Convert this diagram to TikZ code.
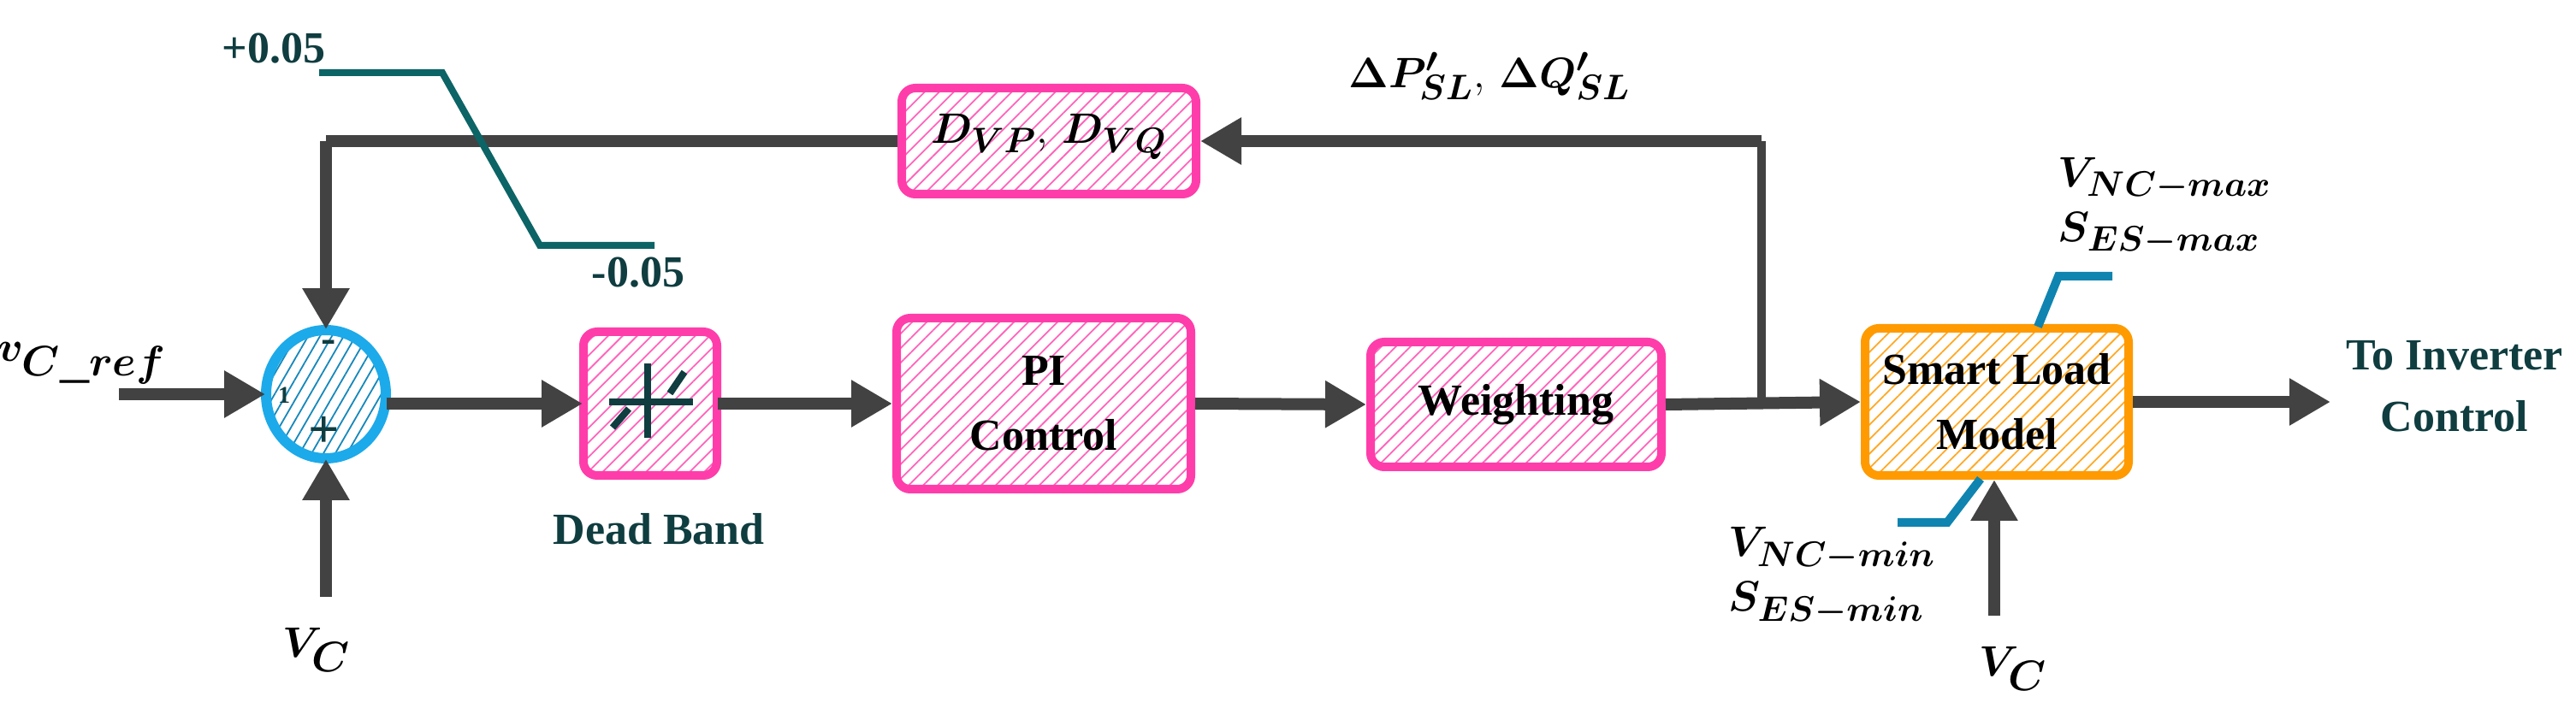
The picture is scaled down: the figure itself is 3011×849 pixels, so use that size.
\documentclass[tikz,border=0pt]{standalone}
\usepackage{fontspec}
\setmainfont{Liberation Serif}
\usepackage{bm}
\usetikzlibrary{arrows.meta,patterns.meta,shapes.geometric}
\definecolor{ar}{HTML}{424242}
\definecolor{pk}{HTML}{FF3DAA}
\definecolor{og}{HTML}{FF9A00}
\definecolor{cy}{HTML}{1CAAEA}
\definecolor{tl}{HTML}{0F3D40}
\definecolor{bl}{HTML}{0F84B0}
\begin{document}
\begin{tikzpicture}[x=0.5pt,y=-0.5pt,
  blk/.style={draw=pk,line width=5pt,rounded corners=8pt,pattern={Lines[angle=45,distance=6pt,line width=0.9pt]},pattern color=pk!80,font=\bfseries\fontsize{26}{30}\selectfont,text=black,align=center,inner sep=0pt},
  sig/.style={draw=ar,line width=7pt},
  arr/.style={sig,-{Triangle[length=24pt,width=26pt]}},
  lbl/.style={text=tl,font=\bfseries\fontsize{26}{30}\selectfont,align=center},
  mth/.style={text=tl,font=\fontsize{30}{34}\selectfont,align=left,inner sep=0pt}]
\useasboundingbox (0,0) rectangle (3011,849);
% blocks
\node[draw=cy,line width=6pt,ellipse,minimum width=140pt/2*2/2*1,minimum height=0pt,pattern={Lines[angle=60,distance=6pt,line width=0.9pt]},pattern color=cy!80!black,inner sep=0pt,minimum width=70pt,minimum height=75pt] (sum) at (381,461) {};
\node[text=tl,font=\bfseries\fontsize{26}{30}\selectfont] (minus) at (384,405) {-};
\node[text=tl,font=\bfseries\fontsize{32}{34}\selectfont] (plus) at (379,505) {+};
\node[text=tl,font=\bfseries\fontsize{14}{14}\selectfont] (one) at (332,462) {1};
\node[blk,minimum width=78pt,minimum height=84pt] (db) at (760,472) {};
\node[blk,minimum width=172pt,minimum height=100pt] (pi) at (1220,472) {PI\\[8pt]Control};
\node[blk,minimum width=170pt,minimum height=73pt] (wt) at (1772,473) {Weighting};
\node[blk,minimum width=172pt,minimum height=62pt] (dv) at (1226,165) {};
\node[text=black,font=\fontsize{32}{34}\selectfont] (dvt) at (1226,160) {$\bm{D_{VP}},\,\bm{D_{VQ}}$};
\node[blk,draw=og,pattern color=og!85,minimum width=154pt,minimum height=86pt] (sl) at (2334,470) {Smart Load\\[8pt]Model};
% dead band symbol
\draw[tl,line width=4pt] (712,470) -- (810,470);
\draw[tl,line width=4pt] (757,425) -- (757,512);
\draw[tl,line width=4pt] (716,500) -- (735,478) (783,460) -- (800,435);
% coordinates
\coordinate (in) at (139,461);
\coordinate (br) at (2059,470);
\coordinate (tr) at (2059,165);
\coordinate (tl) at (381,165);
\coordinate (vc1) at (381,698);
\coordinate (vc2) at (2331,720);
\coordinate (out) at (2724,470);
% connectors
\draw[arr] (in) -- (sum.west);
\draw[arr] (vc1) -- (sum.south);
\draw[arr] (tl) -- (sum.north);
\draw[sig] (dv.west) -- (tl);
\draw[arr] (sum.east |- db.west) -- (db.west);
\draw[arr] (db.east) -- (pi.west);
\draw[arr] (pi.east) -- (wt.west);
\draw[arr] (wt.east) -- (sl.west);
\draw[sig,line width=5pt] (br) -- (tr);
\draw[arr] (tr) -- (dv.east);
\draw[arr] (sl.east) -- (out);
\draw[arr] (vc2) -- (sl.south -| vc2);
% stair and blue lines
\draw[tl!80!cyan,line width=4pt] (373,85) -- (517,85) -- (631,287) -- (765,287);
\draw[bl,line width=5pt] (2382,382) -- (2406,323) -- (2469,323);
\draw[bl,line width=5pt] (2315,560) -- (2276,611) -- (2218,611);
% labels
\node[lbl] (p05) at (320,57) {+0.05};
\node[lbl] (m05) at (746,319) {-0.05};
\node[lbl] (dbl) at (770,619) {Dead Band};
\node[lbl] (toinv) at (2869,452) {To Inverter\\[6pt]Control};
\node[text=black,font=\fontsize{34}{36}\selectfont] (vref) at (96,425) {$\bm{v_{C\_ref}}$};
\node[text=black,font=\fontsize{34}{36}\selectfont] (vcl) at (370,760) {$\bm{V_C}$};
\node[text=black,font=\fontsize{34}{36}\selectfont] (vcr) at (2353,782) {$\bm{V_C}$};
\node[text=black,font=\fontsize{32}{34}\selectfont] (dp) at (1741,89) {$\bm{\Delta P'_{SL}},\,\bm{\Delta Q'_{SL}}$};
\node[text=black,font=\fontsize{30}{34}\selectfont,align=left] (mx) at (2530,242) {$\bm{V_{NC-max}}$\\[-2pt]$\bm{S_{ES-max}}$};
\node[text=black,font=\fontsize{30}{34}\selectfont,align=left] (mn) at (2141,674) {$\bm{V_{NC-min}}$\\[-2pt]$\bm{S_{ES-min}}$};
\end{tikzpicture}
\end{document}
